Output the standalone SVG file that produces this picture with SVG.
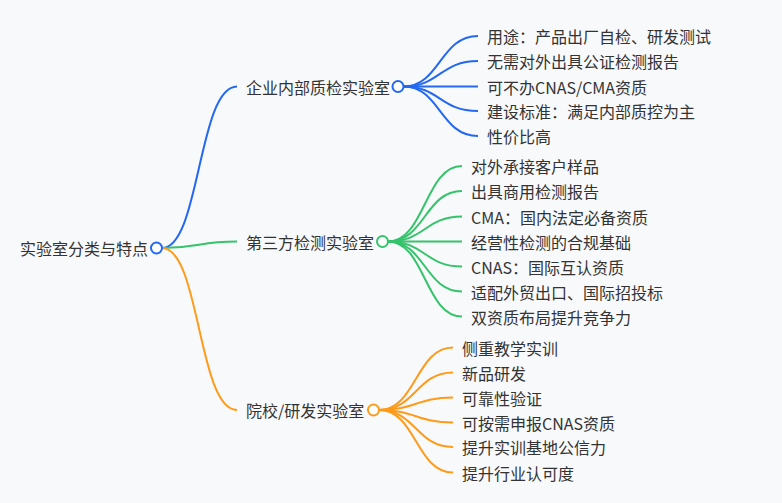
<svg xmlns="http://www.w3.org/2000/svg" width="782" height="503" viewBox="0 0 782 503">
<style>
text{font-family:"Noto Sans CJK SC","Noto Sans",sans-serif;font-size:16px;fill:#333;dominant-baseline:central}
.c{fill:none;stroke-width:2}
.b{stroke:#2468f2}.g{stroke:#35c46b}.o{stroke:#ff9b1a}
circle{fill:#fff;stroke-width:2}
</style>
<rect width="782" height="503" fill="#f8f9fb"/>
<g id="connectors">
<path class="c b" d="M162,248 C200,248 198,86.5 237,86.5"/>
<path class="c g" d="M162,248 C200,248 198,241.5 237,241.5"/>
<path class="c o" d="M162,248 C200,248 198,410 237,410"/>
<path class="c b" d="M403.5,86.5 C440,86.5 440,36 478,36"/>
<path class="c b" d="M403.5,86.5 C440,86.5 440,61 478,61"/>
<path class="c b" d="M403.5,86.5 C440,86.5 440,86.5 478,86.5"/>
<path class="c b" d="M403.5,86.5 C440,86.5 440,111 478,111"/>
<path class="c b" d="M403.5,86.5 C440,86.5 440,136 478,136"/>
<path class="c g" d="M388,241.5 C425,241.5 425,166 462,166"/>
<path class="c g" d="M388,241.5 C425,241.5 425,191 462,191"/>
<path class="c g" d="M388,241.5 C425,241.5 425,216.5 462,216.5"/>
<path class="c g" d="M388,241.5 C425,241.5 425,241.5 462,241.5"/>
<path class="c g" d="M388,241.5 C425,241.5 425,266.5 462,266.5"/>
<path class="c g" d="M388,241.5 C425,241.5 425,291.5 462,291.5"/>
<path class="c g" d="M388,241.5 C425,241.5 425,316.5 462,316.5"/>
<path class="c o" d="M379,410 C416,410 416,347.5 453,347.5"/>
<path class="c o" d="M379,410 C416,410 416,372.5 453,372.5"/>
<path class="c o" d="M379,410 C416,410 416,397.5 453,397.5"/>
<path class="c o" d="M379,410 C416,410 416,422.5 453,422.5"/>
<path class="c o" d="M379,410 C416,410 416,447 453,447"/>
<path class="c o" d="M379,410 C416,410 416,472.5 453,472.5"/>
</g>
<g id="root"><text x="20" y="248">实验室分类与特点</text><circle class="b" cx="156.5" cy="248" r="5.5"/></g>
<g id="n1"><text x="246" y="86.5">企业内部质检实验室</text><circle class="b" cx="398" cy="86.5" r="5.5"/></g>
<g id="n2"><text x="246" y="241.5">第三方检测实验室</text><circle class="g" cx="382.5" cy="241.5" r="5.5"/></g>
<g id="n3"><text x="246" y="410">院校/研发实验室</text><circle class="o" cx="373.5" cy="410" r="5.5"/></g>
<g id="n1a"><text x="487" y="36">用途：产品出厂自检、研发测试</text></g>
<g id="n1b"><text x="487" y="61">无需对外出具公证检测报告</text></g>
<g id="n1c"><text x="487" y="86.5">可不办CNAS/CMA资质</text></g>
<g id="n1d"><text x="487" y="111">建设标准：满足内部质控为主</text></g>
<g id="n1e"><text x="487" y="136">性价比高</text></g>
<g id="n2a"><text x="471" y="166">对外承接客户样品</text></g>
<g id="n2b"><text x="471" y="191">出具商用检测报告</text></g>
<g id="n2c"><text x="471" y="216.5">CMA：国内法定必备资质</text></g>
<g id="n2d"><text x="471" y="241.5">经营性检测的合规基础</text></g>
<g id="n2e"><text x="471" y="266.5">CNAS：国际互认资质</text></g>
<g id="n2f"><text x="471" y="291.5">适配外贸出口、国际招投标</text></g>
<g id="n2g"><text x="471" y="316.5">双资质布局提升竞争力</text></g>
<g id="n3a"><text x="462" y="347.5">侧重教学实训</text></g>
<g id="n3b"><text x="462" y="372.5">新品研发</text></g>
<g id="n3c"><text x="462" y="397.5">可靠性验证</text></g>
<g id="n3d"><text x="462" y="422.5">可按需申报CNAS资质</text></g>
<g id="n3e"><text x="462" y="447">提升实训基地公信力</text></g>
<g id="n3f"><text x="462" y="472.5">提升行业认可度</text></g>
</svg>
